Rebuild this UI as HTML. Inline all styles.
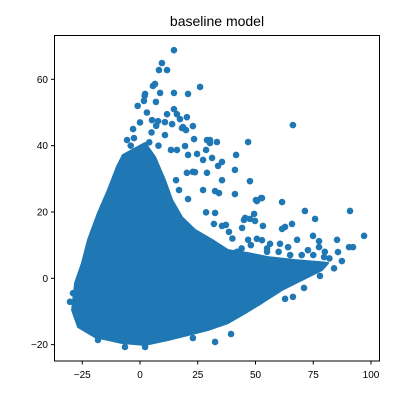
<!DOCTYPE html>
<html><head><meta charset="utf-8"><style>
html,body{margin:0;padding:0;background:#fff;}
svg{display:block;font-family:"Liberation Sans","DejaVu Sans",sans-serif;}
</style></head><body>
<svg id="chart" width="400" height="400" viewBox="0 0 400 400">
<rect width="400" height="400" fill="#fff"/>
<text x="217" y="26" font-size="14" text-anchor="middle" fill="#000">baseline model</text>
<g id="marks"></g>
<rect x="54.5" y="35.5" width="325" height="325.5" fill="none" stroke="#000" stroke-width="1"/>
<g id="axes"></g>
</svg>
<script>
const xTicks = [-25, 0, 25, 50, 75, 100];
const yTicks = [-20, 0, 20, 40, 60];
// dense core region outline (data units)
const coreX = [-7.4,2.2,6.5,10.8,13.9,18.2,23.8,31.2,38.1,46.8,55.4,67.1,77.1,81.4,78.8,70.1,61.5,52.8,45.5,38.1,29.4,20.8,12.1,2.2,-7.8,-19.5,-26.8,-29.4,-28.1,-25.1,-22.5,-18.2,-13.9,-10.0];
const coreY = [37.2,40.8,36.6,29.6,23.6,18.4,14.6,11.6,8.5,7.6,6.4,5.5,4.9,4.6,2.5,-0.5,-3.5,-7.4,-10.5,-13.5,-15.6,-17.1,-18.6,-20.1,-19.5,-17.7,-14.7,-9.6,-1.4,4.6,11.6,19.7,26.6,33.6];
// individual scattered points
const ptX = [14.7,9.5,8.2,11.7,6.5,5.6,8.7,14.7,20.8,26.0,2.2,1.7,6.9,14.7,11.7,16.0,17.3,20.3,19.9,18.2,5.2,7.8,10.8,-5.6,-2.6,10.8,23.4,29.0,13.9,30.3,33.3,13.4,19.5,16.0,24.7,20.8,35.5,33.8,46.8,41.6,27.3,31.2,41.1,18.6,22.9,66.2,29.0,22.9,20.3,35.5,47.6,27.3,32.5,34.2,41.1,50.2,52.8,61.5,71.4,90.9,75.8,47.6,45.5,49.8,62.8,35.5,53.2,32.5,37.2,46.8,65.8,97.0,90.5,92.2,85.3,85.7,87.4,74.9,77.5,77.5,79.7,77.9,71.0,66.2,62.8,61.5,68.0,60.6,56.3,50.6,49.4,52.4,50.6,28.6,30.3,32.5,39.4,-18.2,-6.5,2.2,-30.3,22.9,28.6,32.0,38.5,45.0,15.6,16.9,20.8,23.8,44.0,55.0,64.1,52.8,72.7,44.2,82.0,84.0,-27.0,-29.0,
  -3,0,3,5,-1,2,7,4,8,-4,40,48,55,60,65,70,75,80,58,64,50,42];
const ptY = [68.8,64.9,62.8,62.8,58.6,58.0,55.9,55.9,55.6,57.7,55.6,53.5,53.2,51.0,49.5,49.5,48.0,48.6,44.7,45.3,47.7,47.4,47.1,41.7,42.3,43.2,42.0,41.7,46.5,40.8,41.1,38.7,39.9,38.7,37.5,37.2,35.1,33.9,41.1,37.2,35.7,36.3,32.7,45.6,45.9,46.2,31.8,32.1,31.8,29.6,29.3,26.6,26.3,25.7,25.4,23.6,24.2,23.0,20.3,20.3,17.9,17.9,18.2,17.3,15.5,15.8,15.8,19.7,16.1,11.6,16.4,12.8,9.4,9.4,11.6,7.9,5.2,12.8,11.2,9.4,6.4,0.7,-2.9,-5.6,-6.2,14.9,11.6,10.4,10.4,11.9,19.4,24.2,23.3,38.7,41.7,-19.2,-16.8,-18.6,-20.7,-20.7,-7.1,-18.0,19.9,16.4,14.0,17.6,29.6,26.6,23.9,32.0,9.0,8.0,9.4,11.5,8.5,15.2,6.0,3.0,-11.5,-4.5,
  45,47,50,44,52,55,46,41,40,40,12,10,9,8,7,7,7,8,2,0,2,8];

const sx = v => 140 + v * 2.31;
const sy = v => 278.3 - v * 3.316;
const NS = 'http://www.w3.org/2000/svg';
const marks = document.getElementById('marks');
const axes = document.getElementById('axes');
const C = '#1f77b4';

const poly = document.createElementNS(NS, 'polygon');
poly.setAttribute('points', coreX.map((x, i) => sx(x) + ',' + sy(coreY[i])).join(' '));
poly.setAttribute('fill', C);
poly.setAttribute('stroke', C);
poly.setAttribute('stroke-width', '2');
poly.setAttribute('stroke-linejoin', 'round');


marks.appendChild(poly);

ptX.forEach((x, i) => {
  const c = document.createElementNS(NS, 'circle');
  c.setAttribute('cx', sx(x));
  c.setAttribute('cy', sy(ptY[i]));
  c.setAttribute('r', 3.3);
  c.setAttribute('fill', C);
  
  
  marks.appendChild(c);
});

xTicks.forEach(t => {
  const x = sx(t);
  const l = document.createElementNS(NS, 'line');
  l.setAttribute('x1', x); l.setAttribute('x2', x);
  l.setAttribute('y1', 361); l.setAttribute('y2', 364.5);
  l.setAttribute('stroke', '#000');
  
  
  axes.appendChild(l);
  const tx = document.createElementNS(NS, 'text');
  tx.setAttribute('x', x); tx.setAttribute('y', 378);
  tx.setAttribute('font-size', '10');
  tx.setAttribute('text-anchor', 'middle');
  tx.textContent = t < 0 ? '\u2212' + Math.abs(t) : t;
  
  
  axes.appendChild(tx);
});
yTicks.forEach(t => {
  const y = sy(t);
  const l = document.createElementNS(NS, 'line');
  l.setAttribute('x1', 51); l.setAttribute('x2', 54.5);
  l.setAttribute('y1', y); l.setAttribute('y2', y);
  l.setAttribute('stroke', '#000');
  
  
  axes.appendChild(l);
  const tx = document.createElementNS(NS, 'text');
  tx.setAttribute('x', 48); tx.setAttribute('y', y + 3.5);
  tx.setAttribute('font-size', '10');
  tx.setAttribute('text-anchor', 'end');
  tx.textContent = t < 0 ? '\u2212' + Math.abs(t) : t;
  
  
  axes.appendChild(tx);
});
</script>
</body></html>
